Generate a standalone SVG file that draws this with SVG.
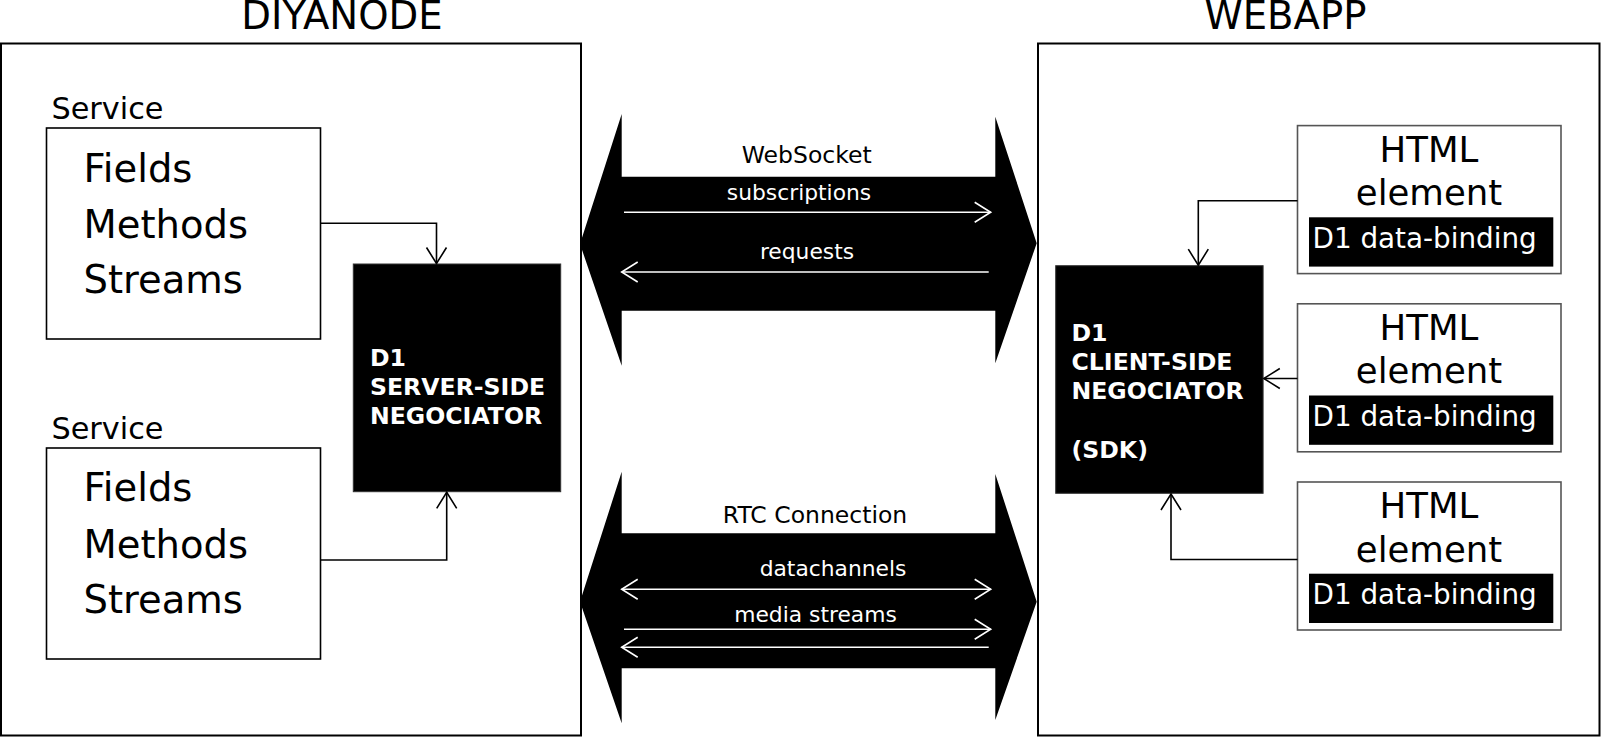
<svg xmlns="http://www.w3.org/2000/svg" width="1601" height="737" viewBox="0 0 1601 737">
<style>
text{font-family:"DejaVu Sans","Verdana",sans-serif;}
.title{font-size:38.6px;fill:#000;text-anchor:middle;}
.outer{fill:#fff;stroke:#000;stroke-width:2;}
.svc{fill:#fff;stroke:#000;stroke-width:1.6;}
.svclbl{font-size:30.3px;fill:#000;}
.item{font-size:38.5px;fill:#000;}
.neg{fill:#000;stroke:#333;stroke-width:1;}
.negt{font-size:23.6px;font-weight:bold;fill:#fff;}
.html{fill:#fff;stroke:#555;stroke-width:1.6;}
.htmlt{font-size:35.5px;fill:#000;text-anchor:middle;}
.bind{fill:#000;}
.bindt{font-size:27.8px;fill:#fff;}
.big{fill:#000;}
.chan{font-size:23.5px;fill:#000;text-anchor:middle;}
.msg{font-size:21.8px;fill:#fff;text-anchor:middle;}
.conn{fill:none;stroke:#000;stroke-width:1.6;}
.wconn{fill:none;stroke:#fff;stroke-width:1.6;}
</style>
<defs>
<marker id="ah" markerUnits="userSpaceOnUse" markerWidth="20" markerHeight="24" viewBox="-18 -12 20 24" refX="0" refY="0" orient="auto-start-reverse" overflow="visible">
<path d="M-16,-10 L0,0 L-16,10" fill="none" stroke="#000" stroke-width="1.6"/>
</marker>
<marker id="ahw" markerUnits="userSpaceOnUse" markerWidth="20" markerHeight="24" viewBox="-18 -12 20 24" refX="0" refY="0" orient="auto-start-reverse" overflow="visible">
<path d="M-16,-10 L0,0 L-16,10" fill="none" stroke="#fff" stroke-width="1.6"/>
</marker>
</defs>
<rect width="1601" height="737" fill="#fff"/>

<g id="diyanode">
<rect class="outer" x="1" y="43.5" width="580" height="692"/>
<text class="title" x="342" y="29.3">DIYANODE</text>
</g>
<g id="webapp">
<rect class="outer" x="1038" y="43.5" width="561.5" height="692"/>
<text class="title" x="1285.5" y="29.3">WEBAPP</text>
</g>

<g id="service1">
<text class="svclbl" x="51.5" y="119">Service</text>
<rect class="svc" x="46.5" y="128" width="274" height="211"/>
<text class="item" x="83.5" y="181.7">Fields</text>
<text class="item" x="83.5" y="237.8">Methods</text>
<text class="item" x="83.5" y="293.3">Streams</text>
</g>
<g id="service2">
<text class="svclbl" x="51.5" y="439">Service</text>
<rect class="svc" x="46.5" y="448" width="274" height="211"/>
<text class="item" x="83.5" y="501.3">Fields</text>
<text class="item" x="83.5" y="557.5">Methods</text>
<text class="item" x="83.5" y="612.9">Streams</text>
</g>

<g id="server-negociator">
<rect class="neg" x="353.3" y="264" width="207.4" height="227.7"/>
<text class="negt" x="370" y="366">D1</text>
<text class="negt" x="370" y="395.2">SERVER-SIDE</text>
<text class="negt" x="370" y="424.4">NEGOCIATOR</text>
</g>

<g id="client-negociator">
<rect class="neg" x="1055.7" y="265.7" width="207.4" height="227.6"/>
<text class="negt" x="1071.5" y="340.7">D1</text>
<text class="negt" x="1071.5" y="370">CLIENT-SIDE</text>
<text class="negt" x="1071.5" y="399.3">NEGOCIATOR</text>
<text class="negt" x="1071.5" y="457.9">(SDK)</text>
</g>

<g id="html1">
<rect class="html" x="1297.5" y="125.6" width="263.5" height="148"/>
<text class="htmlt" x="1429" y="161.8">HTML</text>
<text class="htmlt" x="1429" y="205.2">element</text>
<rect class="bind" x="1309" y="217.3" width="244.3" height="49.3"/>
<text class="bindt" x="1312.5" y="247.6">D1 data-binding</text>
</g>
<g id="html2">
<rect class="html" x="1297.5" y="303.8" width="263.5" height="148"/>
<text class="htmlt" x="1429" y="340">HTML</text>
<text class="htmlt" x="1429" y="383.4">element</text>
<rect class="bind" x="1309" y="395.5" width="244.3" height="49.3"/>
<text class="bindt" x="1312.5" y="425.8">D1 data-binding</text>
</g>
<g id="html3">
<rect class="html" x="1297.5" y="482" width="263.5" height="148"/>
<text class="htmlt" x="1429" y="518.2">HTML</text>
<text class="htmlt" x="1429" y="561.6">element</text>
<rect class="bind" x="1309" y="573.7" width="244.3" height="49.3"/>
<text class="bindt" x="1312.5" y="604">D1 data-binding</text>
</g>

<g id="websocket">
<polygon class="big" points="580,244 621.7,114 621.7,176.7 995.3,176.7 995.3,116.7 1036.7,243.3 995.3,363.3 995.3,310.7 621.7,310.7 621.7,365.7"/>
<text class="chan" x="806.7" y="163.3">WebSocket</text>
<text class="msg" x="799" y="200">subscriptions</text>
<text class="msg" x="807" y="259.3">requests</text>
</g>
<g id="rtc">
<polygon class="big" points="580,601.7 621.7,471.7 621.7,533.3 995.3,533.3 995.3,474 1036.7,601.7 995.3,720 995.3,668.3 621.7,668.3 621.7,723.3"/>
<text class="chan" x="815" y="522.7">RTC Connection</text>
<text class="msg" x="833" y="576">datachannels</text>
<text class="msg" x="815.5" y="621.7">media streams</text>
</g>

<g id="connectors">
<path class="conn" d="M320.5,223.3 H436.5 V263.5" marker-end="url(#ah)"/>
<path class="conn" d="M320.5,560 H446.7 V492.3" marker-end="url(#ah)"/>
<path class="conn" d="M1297.5,200.7 H1198.3 V265.2" marker-end="url(#ah)"/>
<path class="conn" d="M1297.5,378.5 H1263.8" marker-end="url(#ah)"/>
<path class="conn" d="M1297.5,559.5 H1171 V494" marker-end="url(#ah)"/>
<path class="wconn" d="M624,212.3 H990.7" marker-end="url(#ahw)"/>
<path class="wconn" d="M988.7,272 H621.7" marker-end="url(#ahw)"/>
<path class="wconn" d="M621.7,589.3 H990.7" marker-start="url(#ahw)" marker-end="url(#ahw)"/>
<path class="wconn" d="M624,629.3 H990.7" marker-end="url(#ahw)"/>
<path class="wconn" d="M988.7,647.3 H621.7" marker-end="url(#ahw)"/>
</g>
</svg>
